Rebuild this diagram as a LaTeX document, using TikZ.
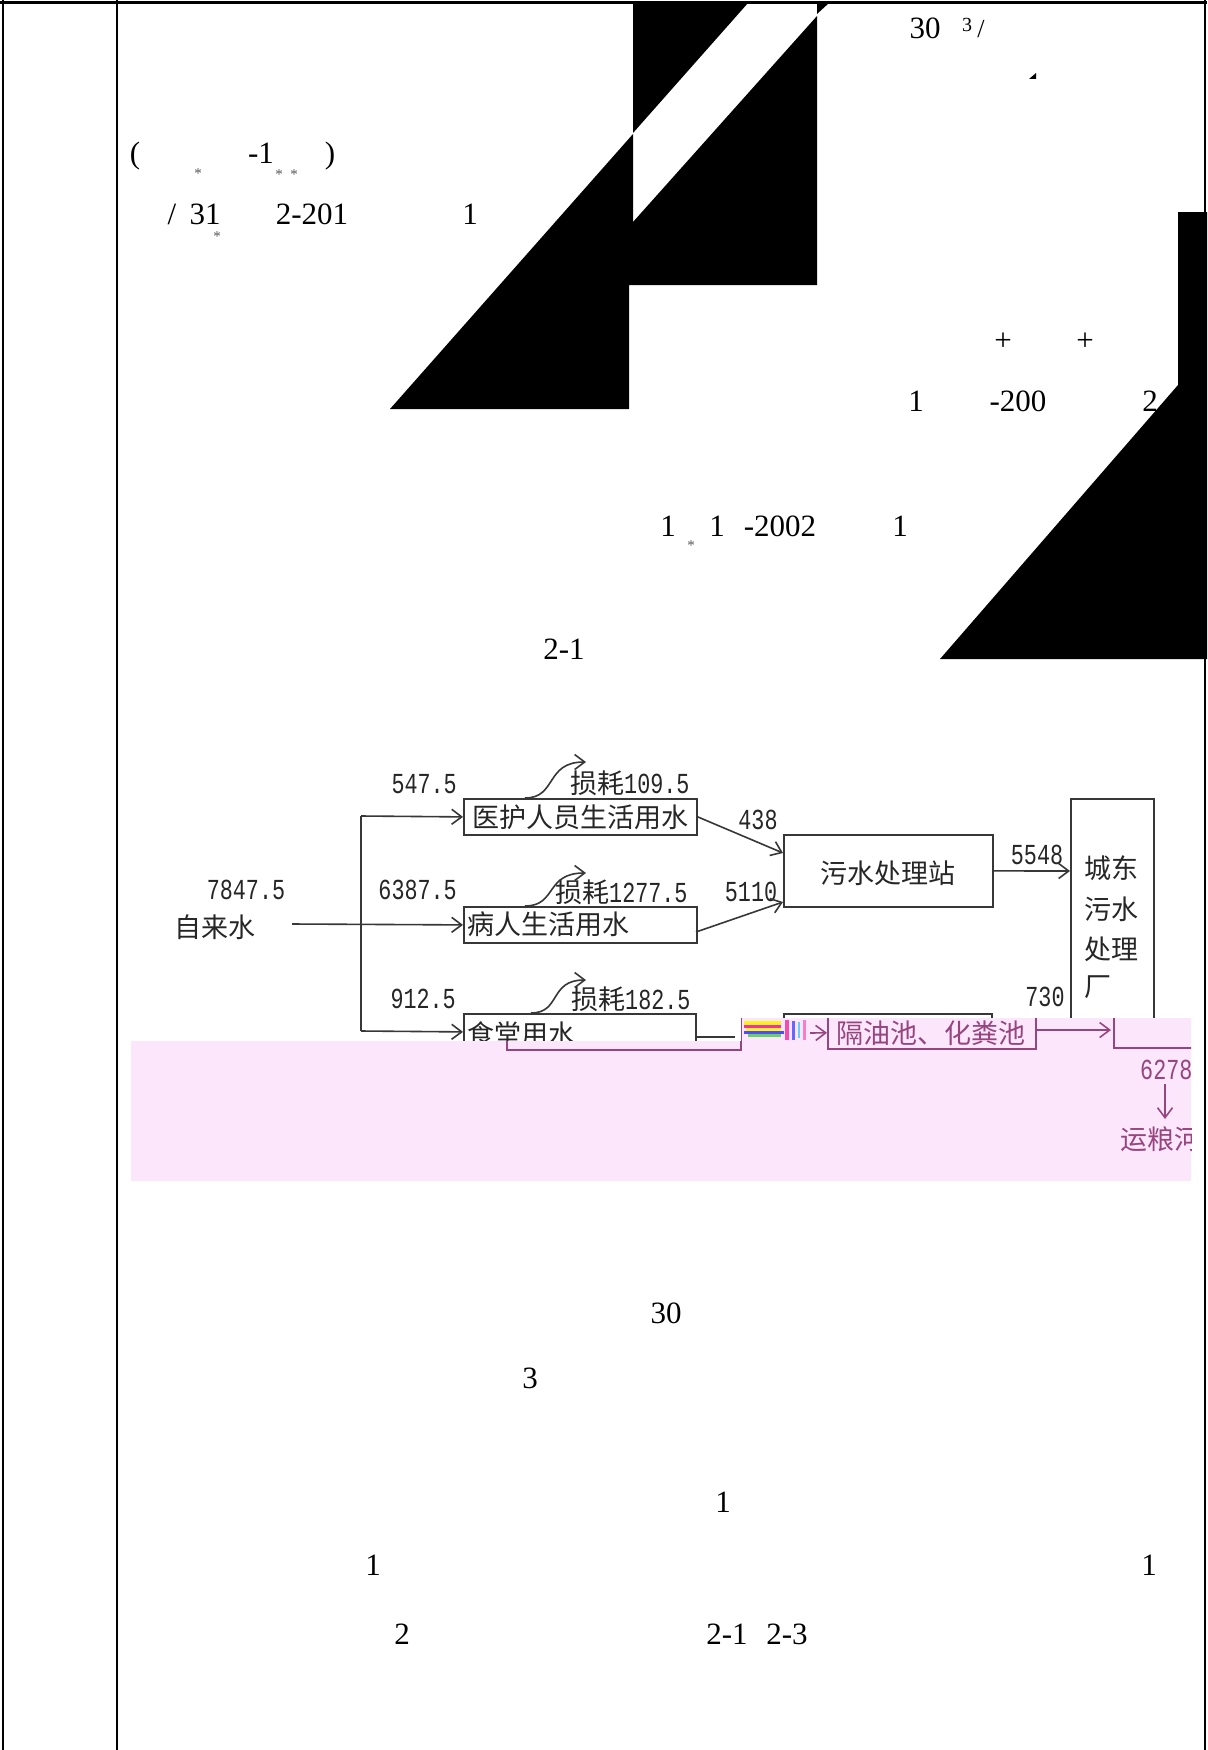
\documentclass[tikz,border=0pt]{standalone}
\usepackage{fontspec}
\setmainfont{Liberation Serif}
\newfontfamily\cjk{Noto Sans CJK SC}
\newfontfamily\dig[FakeStretch=0.75]{Liberation Mono}
\usetikzlibrary{arrows.meta}
\definecolor{lnc}{RGB}{55,55,55}
\definecolor{pinkbg}{RGB}{252,230,252}
\definecolor{mauve}{RGB}{150,70,125}
\newcommand\CJ[1]{{\cjk\fontsize{27}{28}\selectfont #1}}
\newcommand\NM[1]{{\dig\fontsize{29}{29}\selectfont #1}}
\begin{document}
\begin{tikzpicture}[x=1pt,y=-1pt,
  doc/.style={font=\fontsize{31}{31}\selectfont, inner sep=0pt, text=black, anchor=base},
  ast/.style={font=\fontsize{15}{15}\selectfont, inner sep=0pt, text=black!65},
  cj/.style={font=\cjk\fontsize{27}{28}\selectfont, inner sep=0pt, text=black!85},
  num/.style={font=\dig\fontsize{29}{29}\selectfont, inner sep=0pt, text=black!85},
  lbl/.style={inner sep=0pt, text=black!85, anchor=west},
  box/.style={draw=lnc, line width=1.8pt, inner sep=0pt, anchor=north west},
  ln/.style={draw=lnc, line width=1.6pt},
  arr/.style={draw=lnc, line width=1.6pt, -{Straight Barb[length=10pt,width=15pt,line width=1.6pt]}},
  marr/.style={draw=mauve, line width=1.6pt, -{Straight Barb[length=10pt,width=15pt,line width=1.6pt]}},
]
\useasboundingbox (0,0) rectangle (1207,1750);
\fill[white] (0,0) rectangle (1207,1750);

% ---- black blocks ----
\fill[black] (633,3) -- (748,3) -- (633,133) -- cycle;
\fill[black] (633,222) -- (817,16) -- (817,285) -- (633,285) -- cycle;
\fill[black] (817,3) -- (829,3) -- (817,14) -- cycle;
\fill[black] (633,134) -- (390,409) -- (629,409) -- (629,285) -- (633,285) -- cycle;
\fill[black] (1178,212) -- (1207,212) -- (1207,659) -- (940,659) -- (1178,385) -- cycle;
\fill[black] (1029,79) -- (1036,73) -- (1036,79) -- cycle;

% ---- frame ----
\draw[line width=3pt] (0,3) -- (1207,3);
\draw[line width=2.5pt] (3,0) -- (3,1750);
\draw[line width=2pt] (117,0) -- (117,1750);
\draw[line width=2pt] (1205,0) -- (1205,1750);

% ---- body text fragments ----
\node[doc] (t01) at (925,39) {30};
\node[inner sep=0pt, anchor=base, font=\fontsize{20}{20}\selectfont] (t02) at (967,32) {3};
\node[inner sep=0pt, anchor=base, font=\fontsize{26}{26}\selectfont] (t03) at (981,38) {/};
\node[doc] (t04) at (135,164) {(};
\node[doc] (t05) at (261,164) {-1};
\node[doc] (t06) at (330,164) {)};
\node[ast] (t07) at (198,174) {*};
\node[ast] (t08) at (279,175) {*};
\node[ast] (t09) at (294,175) {*};
\node[doc] (t10) at (172,224) {/};
\node[doc] (t11) at (205,224) {31};
\node[ast] (t12) at (217,237) {*};
\node[doc] (t13) at (312,224) {2-201};
\node[doc] (t14) at (470,224) {1};
\node[doc] (t15) at (1003,350) {+};
\node[doc] (t16) at (1085,350) {+};
\node[doc] (t17) at (916,411) {1};
\node[doc] (t18) at (1018,411) {-200};
\node[doc] (t19) at (1150,411) {2};
\node[doc] (t20) at (668,536) {1};
\node[ast] (t21) at (691,546) {*};
\node[doc] (t22) at (717,536) {1};
\node[doc] (t23) at (780,536) {-2002};
\node[doc] (t24) at (900,536) {1};
\node[doc] (t25) at (564,659) {2-1};
\node[doc] (t26) at (666,1323) {30};
\node[doc] (t27) at (530,1388) {3};
\node[doc] (t28) at (723,1512) {1};
\node[doc] (t29) at (373,1575) {1};
\node[doc] (t30) at (1149,1575) {1};
\node[doc] (t31) at (402,1644) {2};
\node[doc] (t32) at (727,1644) {2-1};
\node[doc] (t33) at (787,1644) {2-3};

% ---- flow diagram ----
\node[box, minimum width=233pt, minimum height=36pt] (b1) at (463,798) {};
\node[box, minimum width=233pt, minimum height=36pt] (b2) at (463,906) {};
\node[box, minimum width=209pt, minimum height=72pt] (b3) at (783,834) {};
\node[box, minimum width=83pt, minimum height=250pt] (b4) at (1070,798) {};
\node[box, minimum width=232pt, minimum height=36pt] (b5) at (463,1013) {};
\node[box, minimum width=208pt, minimum height=36pt] (b6) at (783,1013) {};

\node[cj] (b1t) at (b1.center) {医护人员生活用水};
\node[cj, anchor=west] (b2t) at (467,924) {病人生活用水};
\node[cj] (b3t) at (888,873) {污水处理站};
\node[cj, anchor=west] (b4t1) at (1084,868) {城东};
\node[cj, anchor=west] (b4t2) at (1084,909) {污水};
\node[cj, anchor=west] (b4t3) at (1084,949) {处理};
\node[cj, anchor=west] (b4t4) at (1084,987) {厂};
\node[cj, anchor=west] (b5t) at (467,1034) {食堂用水};

\node[cj] (src) at (215,927) {自来水};
\node[num] (n7847) at (246,890) {7847.5};
\node[num, anchor=east] (n547) at (457,784) {547.5};
\node[num, anchor=east] (n6387) at (457,890) {6387.5};
\node[num, anchor=east] (n912) at (456,999) {912.5};
\node[num] (n438) at (758,820) {438};
\node[num] (n5110) at (751,892) {5110};
\node[num] (n5548) at (1037,855) {5548};
\node[num] (n730) at (1045,997) {730};
\node[lbl] (l1) at (570,783) {\CJ{损耗}\NM{109.5}};
\node[lbl] (l2) at (555,892) {\CJ{损耗}\NM{1277.5}};
\node[lbl] (l3) at (571,999) {\CJ{损耗}\NM{182.5}};

\coordinate (s0) at (292,924);
\coordinate (j1) at (361,816);
\coordinate (j2) at (361,1031);
\draw[ln] (j1) -- (j2);
\draw[arr] (s0) -- (b2.west);
\draw[arr] (j1) -- (b1.west);
\draw[arr] (j2) -- (b5.west);

\coordinate (c1s) at (525,798);  \coordinate (c1e) at (586,762);
\coordinate (c2s) at (525,906);  \coordinate (c2e) at (586,873);
\coordinate (c3s) at (531,1013); \coordinate (c3e) at (586,980);
\draw[arr] (c1s) .. controls (557,798) and (545,762) .. (c1e);
\draw[arr] (c2s) .. controls (557,906) and (545,873) .. (c2e);
\draw[arr] (c3s) .. controls (561,1013) and (549,980) .. (c3e);

\coordinate (b3a) at (783,853);
\coordinate (b2o) at (696,932);
\coordinate (b3b) at (783,902);
\coordinate (b4a) at (1070,871);
\draw[arr] (b1.east) -- (b3a);
\draw[arr] (b2o) -- (b3b);
\draw[arr] (b3.east) -- (b4a);
\coordinate (b5o) at (695,1037);
\coordinate (g1) at (735,1037);
\draw[ln] (b5o) -- (g1);

% ---- pink overlay ----
\begin{scope}
\clip (131,1041) -- (741,1041) -- (741,1018) -- (1191,1018) -- (1191,1181) -- (131,1181) -- cycle;
\fill[pinkbg] (131,1000) rectangle (1191,1181);
\node[draw=mauve, line width=1.6pt, inner sep=0pt, anchor=north west, minimum width=234pt, minimum height=36pt] (p5) at (506,1013) {};
\node[draw=mauve, line width=1.6pt, inner sep=0pt, anchor=north west, minimum width=208pt, minimum height=32pt] (p6) at (827,1016) {};
\node[cj, text=mauve] (p6t) at (931,1033) {隔油池、化粪池};
\node[draw=mauve, line width=1.6pt, inner sep=0pt, anchor=north west, minimum width=120pt, minimum height=57pt] (p4) at (1113,990) {};
% glitch
\fill[yellow!90!white] (744,1021) rectangle (781,1025);
\fill[magenta!80] (744,1025) rectangle (781,1028);
\fill[yellow!90!white] (746,1028) rectangle (781,1031);
\fill[blue!70] (744,1031) rectangle (784,1034);
\fill[green!70!black!60] (748,1034) rectangle (781,1037);
\fill[magenta!70] (785,1020) rectangle (789,1040);
\fill[blue!60] (792,1021) rectangle (795,1040);
\fill[cyan!60] (798,1022) rectangle (800,1038);
\fill[magenta!50] (803,1020) rectangle (806,1040);
\coordinate (gl) at (810,1033);
\draw[marr] (gl) -- (p6.west);
\coordinate (p4a) at (1111,1030);
\draw[marr] (p6.east |- p4a) -- (p4a);
\node[num, text=mauve, anchor=west] (n6278) at (1140,1070) {6278};
\coordinate (d1) at (1165,1084);
\coordinate (d2) at (1165,1119);
\draw[marr] (d1) -- (d2);
\node[cj, text=mauve, anchor=west] (river) at (1120,1139) {运粮河};
\end{scope}
\end{tikzpicture}
\end{document}
